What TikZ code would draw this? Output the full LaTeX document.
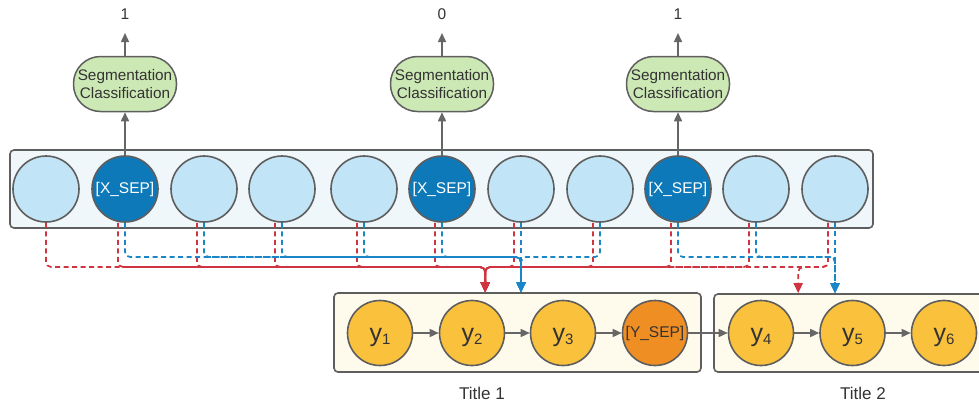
\documentclass[tikz,border=0pt]{standalone}
\usepackage{fontspec}
\setmainfont{Liberation Sans}
\usetikzlibrary{arrows.meta,calc}
\definecolor{strokegray}{HTML}{5E5E5E}
\definecolor{arrowgray}{HTML}{666666}
\definecolor{textdark}{HTML}{333333}
\definecolor{tokblue}{HTML}{C1E4F6}
\definecolor{sepblue}{HTML}{0E79B8}
\definecolor{encfill}{HTML}{F0F7FB}
\definecolor{seggreen}{HTML}{CCE8B5}
\definecolor{yyellow}{HTML}{FAC13C}
\definecolor{yorange}{HTML}{EE8E23}
\definecolor{decfill}{HTML}{FEFAEC}
\definecolor{dred}{HTML}{CF3440}
\definecolor{dblue}{HTML}{1B86C7}
\begin{document}
\begin{tikzpicture}[x=1pt,y=-1pt,
  tok/.style={circle, draw=strokegray, line width=1.6pt, fill=tokblue, minimum size=66pt, inner sep=0pt},
  septok/.style={tok, fill=sepblue, text=white, font=\fontsize{15.5}{16}\selectfont},
  segbox/.style={rectangle, rounded corners=27pt, draw=strokegray, line width=1.5pt, fill=seggreen, minimum width=103pt, minimum height=55pt, inner sep=0pt, align=center, font=\fontsize{15.3}{18}\selectfont, text=textdark},
  ynode/.style={circle, draw=strokegray, line width=1.6pt, fill=yyellow, minimum size=65pt, inner sep=0pt, text=textdark, text height=21pt, text depth=5pt},
  ysep/.style={circle, draw=strokegray, line width=1.6pt, fill=yorange, minimum size=65pt, inner sep=0pt, text=textdark, font=\fontsize{15.5}{16}\selectfont},
  panel/.style={rectangle, rounded corners=4pt, draw=strokegray, line width=1.6pt, inner sep=0pt},
  grayarrow/.style={draw=arrowgray, line width=1.5pt, -{Triangle[length=9pt,width=8pt]}},
  reddash/.style={draw=dred, line width=1.7pt, dash pattern=on 5pt off 3.5pt, rounded corners=5pt, -{Triangle[length=10pt,width=9pt,fill=dred]}},
  bluedash/.style={draw=dblue, line width=1.7pt, dash pattern=on 5pt off 3.5pt, rounded corners=5pt, -{Triangle[length=10pt,width=9pt,fill=dblue]}},
  numlab/.style={font=\fontsize{15.5}{15.5}\selectfont, text=textdark, inner sep=0pt, anchor=base},
  titlelab/.style={font=\fontsize{17}{17}\selectfont, text=textdark, inner sep=0pt}
]
\useasboundingbox (0,0) rectangle (979,405);
\clip (0,0) rectangle (979,405);

% encoder panel
\node[panel, fill=encfill, minimum width=863pt, minimum height=78pt] (enc) at (441.5,189) {};

% tokens
\foreach \i/\x in {1/46,3/204,4/282,5/364,7/521,8/600,10/756,11/835}
  \node[tok] (c\i) at (\x,189) {};
\foreach \i/\x in {2/125,6/442,9/678}
  \node[septok] (c\i) at (\x,189) {[X\_SEP]};

% segmentation classifiers
\foreach \j/\i/\v in {1/2/1,2/6/0,3/9/1}{
  \node[segbox] (seg\j) at ($(c\i)+(0,-105)$) {Segmentation\\Classification};
  \coordinate (o\j) at ($(c\i)+(0,-156)$);
  \node[numlab] (n\j) at ($(c\i)+(0,-170)$) {\v};
  \draw[grayarrow] (c\i.north) -- (seg\j.south);
  \draw[grayarrow] (seg\j.north) -- (o\j);
}

% decoder panels
\node[panel, fill=decfill, minimum width=367pt, minimum height=79pt] (box1) at (517.5,332.5) {};
\node[panel, fill=decfill, minimum width=276pt, minimum height=78pt] (box2) at (852,333) {};

\node[ynode] (y1) at (380,333) {{\fontsize{25}{25}\selectfont y}{\fontsize{15}{15}\selectfont\raisebox{-3pt}{1}}};
\node[ynode] (y2) at (472,333) {{\fontsize{25}{25}\selectfont y}{\fontsize{15}{15}\selectfont\raisebox{-3pt}{2}}};
\node[ynode] (y3) at (563,333) {{\fontsize{25}{25}\selectfont y}{\fontsize{15}{15}\selectfont\raisebox{-3pt}{3}}};
\node[ysep]  (ys) at (655,333) {[Y\_SEP]};
\node[ynode] (y4) at (761,333) {{\fontsize{25}{25}\selectfont y}{\fontsize{15}{15}\selectfont\raisebox{-3pt}{4}}};
\node[ynode] (y5) at (852.5,333) {{\fontsize{25}{25}\selectfont y}{\fontsize{15}{15}\selectfont\raisebox{-3pt}{5}}};
\node[ynode] (y6) at (944,333) {{\fontsize{25}{25}\selectfont y}{\fontsize{15}{15}\selectfont\raisebox{-3pt}{6}}};

\draw[grayarrow] (y1) -- (y2);
\draw[grayarrow] (y2) -- (y3);
\draw[grayarrow] (y3) -- (ys);
\draw[grayarrow] (ys) -- (y4);
\draw[grayarrow] (y4) -- (y5);
\draw[grayarrow] (y5) -- (y6);

\node[titlelab] (title1) at (482,393) {Title 1};
\node[titlelab] (title2) at (863,393) {Title 2};

% dashed attention connectors
\coordinate (lvR) at (0,267);
\coordinate (lvB) at (0,257);
\coordinate (tr1) at ($(box1.north west)+(152,0)$);
\coordinate (tr2) at ($(box2.north west)+(85,0)$);
\coordinate (tb1) at (c7.south |- box1.north);
\coordinate (tb2) at (c11.south |- box2.north);
\coordinate (r1) at (c1.south);
\foreach \i in {2,...,11}
  \coordinate (r\i) at ([xshift=-7pt]c\i.south);

\foreach \i in {1,...,11}
  \draw[reddash] (r\i) -- (r\i |- lvR) -- (tr1 |- lvR) -- (tr1);
\draw[reddash] (r11) -- (r11 |- lvR) -- (tr2 |- lvR) -- (tr2);
\foreach \i in {2,3,4,5,6,8}
  \draw[bluedash] (c\i.south) -- (c\i.south |- lvB) -- (tb1 |- lvB) -- (tb1);
\draw[bluedash] (c7.south) -- (tb1);
\foreach \i in {9,10}
  \draw[bluedash] (c\i.south) -- (c\i.south |- lvB) -- (tb2 |- lvB) -- (tb2);
\draw[bluedash] (c11.south) -- (tb2);
\end{tikzpicture}
\end{document}
